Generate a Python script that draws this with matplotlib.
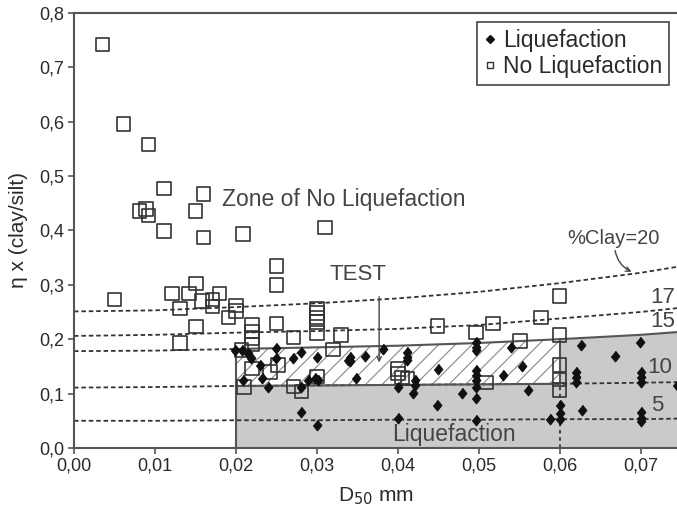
import matplotlib
matplotlib.use("Agg")
import matplotlib.pyplot as plt
from matplotlib.lines import Line2D

plt.rcParams['font.family'] = ['Liberation Sans', 'DejaVu Sans']
plt.rcParams['hatch.linewidth'] = 0.8
plt.rcParams['hatch.color'] = '#777777'

# observed points, D50 (mm) and eta x (clay/silt)
liq_x = [0.0199, 0.0207, 0.0215, 0.0219, 0.0230, 0.0232, 0.0209, 0.0240, 0.0250, 0.0250,
         0.0271, 0.0281, 0.0300, 0.0289, 0.0298, 0.0302, 0.0281, 0.0281, 0.0300, 0.0339,
         0.0382, 0.0341, 0.0341, 0.0359, 0.0349, 0.0411, 0.0411, 0.0411, 0.0450, 0.0497,
         0.0497, 0.0497, 0.0497, 0.0497, 0.0497, 0.0497, 0.0497, 0.0497, 0.0530, 0.0421,
         0.0421, 0.0419, 0.0400, 0.0400, 0.0479, 0.0449, 0.0540, 0.0553, 0.0561, 0.0627,
         0.0699, 0.0668, 0.0620, 0.0620, 0.0620, 0.0700, 0.0700, 0.0700, 0.0600, 0.0600,
         0.0588, 0.0600, 0.0628, 0.0700, 0.0700, 0.0700, 0.0745]
liq_y = [0.180, 0.180, 0.174, 0.165, 0.153, 0.128, 0.125, 0.113, 0.183, 0.165,
         0.165, 0.177, 0.168, 0.125, 0.128, 0.125, 0.113, 0.066, 0.042, 0.162,
         0.182, 0.168, 0.159, 0.170, 0.128, 0.177, 0.168, 0.162, 0.146, 0.195,
         0.186, 0.180, 0.143, 0.134, 0.125, 0.113, 0.091, 0.051, 0.134, 0.125,
         0.116, 0.102, 0.113, 0.055, 0.102, 0.079, 0.186, 0.151, 0.107, 0.189,
         0.194, 0.169, 0.140, 0.131, 0.122, 0.140, 0.131, 0.122, 0.079, 0.064,
         0.053, 0.053, 0.069, 0.067, 0.056, 0.050, 0.116]

noliq_x = [0.0035, 0.0061, 0.0092, 0.0111, 0.0081, 0.0089, 0.0092, 0.0111, 0.0160, 0.0150,
           0.0160, 0.0209, 0.0310, 0.0050, 0.0121, 0.0131, 0.0142, 0.0151, 0.0158, 0.0171,
           0.0180, 0.0171, 0.0151, 0.0131, 0.0191, 0.0200, 0.0200, 0.0250, 0.0250, 0.0250,
           0.0220, 0.0220, 0.0220, 0.0220, 0.0271, 0.0300, 0.0300, 0.0300, 0.0300, 0.0300,
           0.0320, 0.0330, 0.0207, 0.0220, 0.0210, 0.0242, 0.0252, 0.0271, 0.0281, 0.0300,
           0.0449, 0.0497, 0.0518, 0.0400, 0.0400, 0.0405, 0.0412, 0.0509, 0.0577, 0.0551,
           0.0600, 0.0600, 0.0600, 0.0600, 0.0600]
noliq_y = [0.742, 0.596, 0.558, 0.477, 0.436, 0.439, 0.427, 0.399, 0.467, 0.436,
           0.387, 0.393, 0.405, 0.273, 0.284, 0.256, 0.284, 0.302, 0.270, 0.273,
           0.284, 0.260, 0.223, 0.193, 0.240, 0.252, 0.262, 0.335, 0.300, 0.229,
           0.226, 0.214, 0.202, 0.190, 0.203, 0.232, 0.240, 0.248, 0.256, 0.211,
           0.181, 0.208, 0.180, 0.146, 0.112, 0.140, 0.153, 0.113, 0.104, 0.131,
           0.224, 0.212, 0.229, 0.145, 0.137, 0.130, 0.128, 0.120, 0.240, 0.197,
           0.279, 0.208, 0.153, 0.126, 0.107]

# %Clay boundary curves
clay_x = [0.0, 0.01, 0.02, 0.03, 0.04, 0.05, 0.06, 0.07, 0.0745]
clay5 = [0.050, 0.050, 0.051, 0.051, 0.052, 0.052, 0.053, 0.053, 0.054]
clay10 = [0.111, 0.112, 0.114, 0.115, 0.116, 0.117, 0.118, 0.120, 0.121]
clay15 = [0.178, 0.179, 0.182, 0.185, 0.188, 0.193, 0.200, 0.208, 0.213]
clay17 = [0.206, 0.208, 0.212, 0.215, 0.219, 0.226, 0.238, 0.250, 0.257]
clay20 = [0.251, 0.253, 0.259, 0.266, 0.275, 0.287, 0.303, 0.322, 0.333]

x_ticks = [0.0, 0.01, 0.02, 0.03, 0.04, 0.05, 0.06, 0.07]
x_labels = ['0,00', '0,01', '0,02', '0,03', '0,04', '0,05', '0,06', '0,07']
y_ticks = [0.0, 0.1, 0.2, 0.3, 0.4, 0.5, 0.6, 0.7, 0.8]
y_labels = ['0,0', '0,1', '0,2', '0,3', '0,4', '0,5', '0,6', '0,7', '0,8']

txt = '#2a2a2a'
dark = '#444444'

fig = plt.figure(figsize=(6.77, 5.11), dpi=100)
ax = fig.add_axes([0.1093, 0.1233, 0.8907, 0.8517])

# regions
i2 = clay_x.index(0.02)
i6 = clay_x.index(0.06)
ax.fill_between(clay_x[i2:i6 + 1], 0, clay10[i2:i6 + 1], color='#cacaca', lw=0, zorder=1)
ax.fill_between(clay_x[i6:], 0, clay15[i6:], color='#cacaca', lw=0, zorder=1)
ax.fill_between(clay_x[i2:i6 + 1], clay10[i2:i6 + 1], clay15[i2:i6 + 1],
                facecolor='white', hatch='//', edgecolor='#888888', lw=0, zorder=1)

dash = dict(color='#333333', lw=1.3, ls=(0, (2.5, 1.6)), zorder=2)
ax.plot(clay_x, clay5, **dash)
ax.plot(clay_x, clay10, **dash)
ax.plot(clay_x[:i2 + 1], clay15[:i2 + 1], **dash)
ax.plot(clay_x, clay17, **dash)
ax.plot(clay_x, clay20, **dash)

solid = dict(color='#555555', lw=1.5, zorder=2)
ax.plot(clay_x[i2:], clay15[i2:], **solid)
ax.plot(clay_x[i2:i6 + 1], clay10[i2:i6 + 1], **solid)
ax.plot([0.02, 0.02], [0, clay15[i2]], **solid)
ax.plot([0.06, 0.06], [clay10[i6], clay15[i6]], **solid)
ax.plot([0.06, 0.06], [0, clay10[i6]], color='#333333', lw=1.3, ls=(0, (2, 2)), zorder=2)

# data
ax.scatter(noliq_x, noliq_y, marker='s', s=95, facecolors='none', edgecolors='#333333',
           linewidths=1.2, zorder=3)
ax.plot(liq_x, liq_y, ls='none', marker=[(0, 1), (0.8, 0), (0, -1), (-0.8, 0)],
        ms=7.5, color='#111111', zorder=4)

# annotations
ax.text(0.0183, 0.456, 'Zone of No Liquefaction', fontsize=16.5, color=dark, va='center')
ax.text(0.047, 0.025, 'Liquefaction', fontsize=16.5, color=dark, ha='center', va='center')
ax.text(0.0351, 0.318, 'TEST', fontsize=16, color=dark, ha='center', va='center')
ax.annotate('', xy=(0.0377, 0.152), xytext=(0.0377, 0.283),
            arrowprops=dict(arrowstyle='->', color=dark, lw=1.0, mutation_scale=8), zorder=5)
ax.text(0.0667, 0.386, '%Clay=20', fontsize=14.5, color=dark, ha='center', va='center')
ax.annotate('', xy=(0.0692, 0.322), xytext=(0.0668, 0.368),
            arrowprops=dict(arrowstyle='->', color=dark, lw=1.0, mutation_scale=8,
                            connectionstyle='arc3,rad=0.3'), zorder=5)
ax.text(0.0727, 0.277, '17', fontsize=16, color=dark, ha='center', va='center')
ax.text(0.0727, 0.233, '15', fontsize=16, color=dark, ha='center', va='center')
ax.text(0.0724, 0.148, '10', fontsize=16, color=dark, ha='center', va='center')
ax.text(0.0721, 0.078, '5', fontsize=16, color=dark, ha='center', va='center')

ax.set_xlim(0, 0.0745)
ax.set_ylim(0, 0.8)
ax.set_xticks(x_ticks)
ax.set_xticklabels(x_labels)
ax.set_yticks(y_ticks)
ax.set_yticklabels(y_labels)
ax.tick_params(direction='out', length=4, width=1.2, color='#555555', labelcolor=txt,
               labelsize=13, pad=3)
for side in ['left', 'bottom', 'top']:
    ax.spines[side].set_color('#555555')
    ax.spines[side].set_linewidth(1.5)
ax.spines['right'].set_visible(False)

ax.set_xlabel('D$_{50}$ mm', fontsize=15, color=txt, labelpad=8)
ax.set_ylabel('η x (clay/silt)', fontsize=15, color=txt, labelpad=8)

handles = [Line2D([], [], ls='none', marker='D', ms=4, color='#111111'),
           Line2D([], [], ls='none', marker='s', ms=5, mfc='none', mec='#333333', mew=1.0)]
leg = ax.legend(handles, ['Liquefaction', 'No Liquefaction'], loc='upper right',
                bbox_to_anchor=(0.987, 0.979), borderaxespad=0, fontsize=16.5,
                handlelength=0.6, handletextpad=0.25, labelspacing=0.15, borderpad=0.3,
                fancybox=False, framealpha=1, edgecolor='#444444')
leg.get_frame().set_linewidth(1.2)
for t in leg.get_texts():
    t.set_color(txt)

fig.savefig('out.png', dpi=100)
